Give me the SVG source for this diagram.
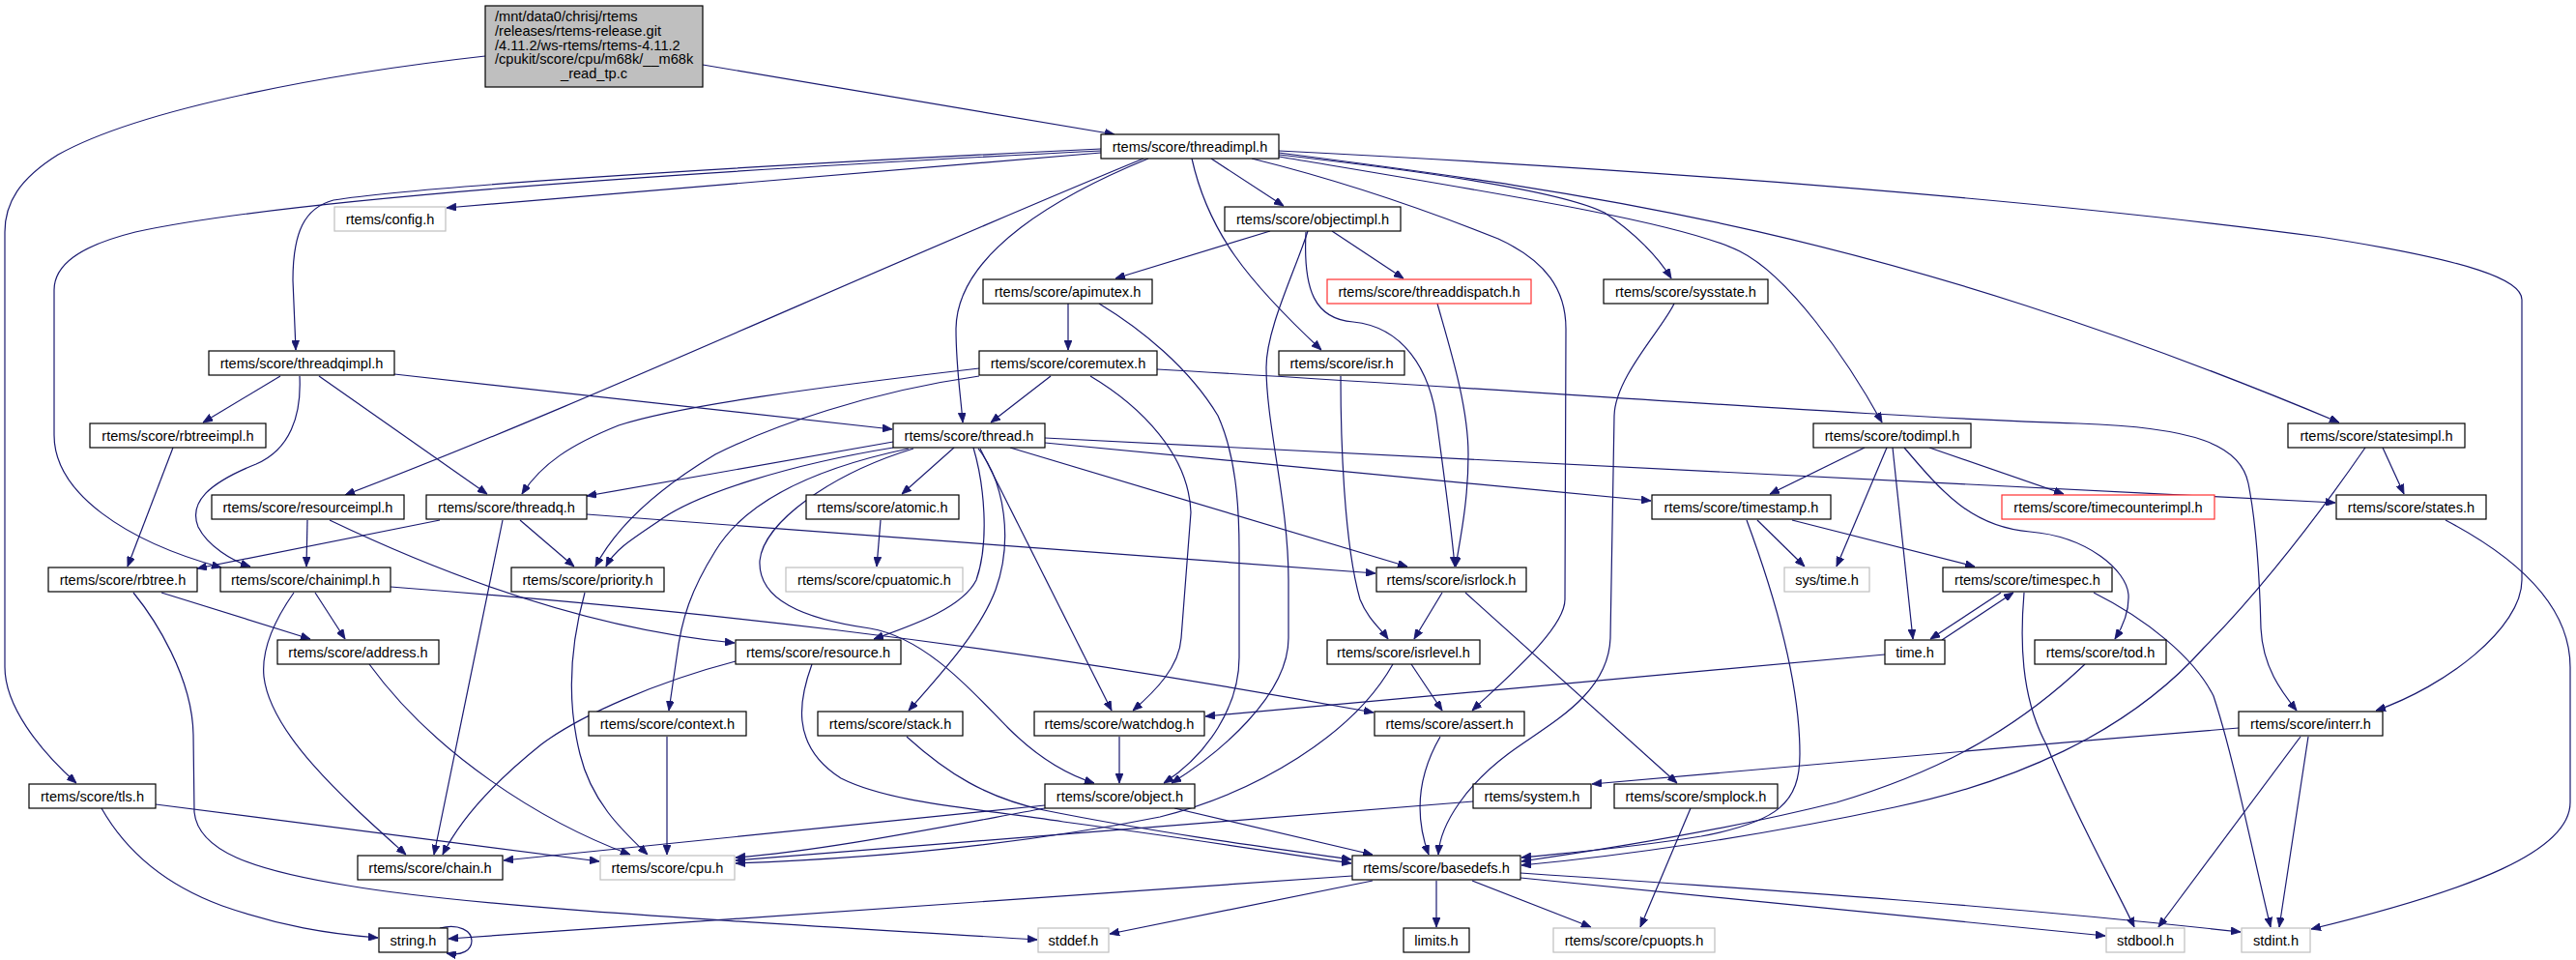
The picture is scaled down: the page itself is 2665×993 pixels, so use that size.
<svg xmlns="http://www.w3.org/2000/svg" width="2665" height="993" viewBox="0 0 2665 993">
<style>
.n rect{fill:#fff;stroke:#000;stroke-width:1.2}
.g rect{stroke:#bfbfbf}
.r rect{stroke:#ff3030}
.root rect{fill:#bfbfbf}
text{font-family:"Liberation Sans",Arial,sans-serif;font-size:14.6px;fill:#000;text-anchor:middle}
.e path{fill:none;stroke:#191970;stroke-width:1.2;marker-end:url(#a)}
</style>
<defs>
<marker id="a" viewBox="0 0 10 8" markerWidth="10" markerHeight="8" refX="10" refY="4" orient="auto" markerUnits="userSpaceOnUse">
<path d="M0,0 L10,4 L0,8 z" fill="#191970" stroke="#191970" stroke-width="0.8"/>
</marker>
</defs>
<rect width="2665" height="993" fill="#fff"/>
<g id="edges" class="e">
<path d="M727,67 L1153,139"/>
<path d="M502,58 C350,75 150,110 60,160 C20,185 5,210 5,240 L5,690 C5,730 40,775 79,810"/>
<path d="M1139,158 L462,215"/>
<path d="M1139,154 C700,175 420,195 345,207 C315,215 303,240 303,290 L306,362"/>
<path d="M1139,156 C700,178 300,205 140,240 C80,255 56,275 56,300 L56,450 C56,510 130,560 229,587"/>
<path d="M1183,164 C900,280 600,420 357,512"/>
<path d="M1188,164 C1100,200 990,260 989,340 C989,380 994,410 996,437"/>
<path d="M1253,164 L1328,213"/>
<path d="M1233,164 C1250,240 1290,290 1367,362"/>
<path d="M1295,164 C1380,185 1470,215 1550,247 C1600,270 1620,300 1620,340 L1619,620 C1619,650 1560,700 1523,735"/>
<path d="M1323,160 C1500,180 1620,200 1660,220 C1690,240 1715,265 1729,288"/>
<path d="M1323,162 C1550,200 1740,230 1800,260 C1850,285 1910,370 1947,437"/>
<path d="M1323,158 C1650,200 1950,240 2420,437"/>
<path d="M1323,156 C1700,175 2100,205 2400,245 C2560,270 2609,290 2609,310 L2609,600 C2609,650 2530,710 2458,735"/>
<path d="M1314,239 L1154,288"/>
<path d="M1378,239 L1452,288"/>
<path d="M1353,239 C1340,280 1310,340 1310,380 C1310,440 1333,520 1333,600 L1333,660 C1333,720 1260,780 1212,810"/>
<path d="M1351,240 C1348,300 1360,330 1400,333 C1450,338 1480,380 1487,440 C1495,500 1502,550 1505,586"/>
<path d="M1487,314 C1500,360 1519,420 1519,470 C1519,520 1510,560 1506,586"/>
<path d="M1732,314 C1720,340 1671,390 1670,430 L1666,660 C1664,720 1600,750 1560,780 C1520,810 1490,850 1488,884"/>
<path d="M1105,314 L1105,362"/>
<path d="M1137,314 C1180,340 1230,380 1260,430 C1278,470 1282,520 1282,570 L1282,680 C1282,730 1250,780 1204,810"/>
<path d="M1087,389 L1025,437"/>
<path d="M1013,381 C850,400 700,420 640,440 C590,460 560,480 540,511"/>
<path d="M1013,389 C900,405 800,440 740,470 C690,500 640,540 616,586"/>
<path d="M1128,389 C1180,420 1230,470 1232,530 L1222,660 C1220,690 1195,715 1172,735"/>
<path d="M1197,382 C1600,405 1950,432 2150,438 C2270,442 2318,460 2326,500 C2336,550 2338,610 2339,650 C2341,690 2360,715 2376,735"/>
<path d="M924,457 L607,513"/>
<path d="M924,463 C820,480 720,510 680,540 C650,560 635,570 627,586"/>
<path d="M987,463 L933,511"/>
<path d="M1045,463 L1456,586"/>
<path d="M1081,458 L1708,518"/>
<path d="M1081,453 C1600,475 2100,500 2416,520"/>
<path d="M1007,463 C1018,500 1024,560 1010,600 C995,630 940,648 904,661"/>
<path d="M945,464 C860,490 790,540 786,580 C784,620 830,640 900,650 C960,660 1010,720 1043,753 C1070,780 1100,800 1132,810"/>
<path d="M940,464 C840,485 770,520 740,570 C715,610 705,640 700,680 L692,735"/>
<path d="M1012,464 C1040,500 1048,560 1030,610 C1015,650 980,690 940,735"/>
<path d="M1014,464 L1150,735"/>
<path d="M290,389 L210,437"/>
<path d="M310,389 C312,430 300,465 265,480 C215,500 195,520 205,545 C215,565 240,580 259,586"/>
<path d="M330,389 L504,511"/>
<path d="M408,387 L923,444"/>
<path d="M179,463 L132,586"/>
<path d="M318,538 L317,586"/>
<path d="M341,538 C450,590 600,650 760,665"/>
<path d="M455,538 L204,588"/>
<path d="M538,538 L594,586"/>
<path d="M520,538 L449,884"/>
<path d="M607,532 L1423,593"/>
<path d="M911,538 L907,586"/>
<path d="M1818,538 L1867,586"/>
<path d="M1854,538 L2043,586"/>
<path d="M1807,538 C1830,600 1862,700 1862,780 C1862,830 1840,850 1760,865 C1680,878 1620,882 1574,887"/>
<path d="M1929,463 L1831,511"/>
<path d="M1952,463 L1900,586"/>
<path d="M1958,463 L1979,661"/>
<path d="M1996,463 L2135,511"/>
<path d="M1970,463 C2010,510 2040,545 2100,550 C2160,555 2200,590 2202,615 C2203,635 2195,650 2188,661"/>
<path d="M2465,463 L2487,511"/>
<path d="M2447,463 C2380,560 2320,630 2280,670 C2200,760 2080,810 1960,835 C1820,865 1680,885 1574,895"/>
<path d="M2530,538 C2610,580 2659,630 2659,690 L2659,830 C2659,880 2560,920 2391,961"/>
<path d="M167,613 L321,661"/>
<path d="M138,613 C160,640 199,700 200,760 L201,840 C205,880 260,900 360,916 C500,940 800,955 1073,972"/>
<path d="M326,613 L357,661"/>
<path d="M304,613 C285,640 270,670 273,700 C280,760 360,830 420,884"/>
<path d="M404,607 C700,630 1000,660 1421,737"/>
<path d="M605,613 C592,660 585,720 600,780 C612,830 645,860 670,884"/>
<path d="M382,687 C450,780 560,850 652,884"/>
<path d="M761,684 C680,705 600,740 560,770 C510,810 475,850 458,884"/>
<path d="M840,687 C828,720 815,770 870,805 C920,830 1000,835 1100,850 C1250,870 1340,885 1398,893"/>
<path d="M690,762 L690,884"/>
<path d="M938,762 C980,800 1020,825 1080,838 C1200,862 1320,878 1398,889"/>
<path d="M1158,762 L1158,810"/>
<path d="M1950,677 L1247,741"/>
<path d="M1490,762 C1468,800 1462,840 1478,884"/>
<path d="M2316,753 C2100,770 1900,790 1647,811"/>
<path d="M2380,762 L2233,959"/>
<path d="M2388,762 L2358,959"/>
<path d="M2157,687 C2080,760 2000,800 1900,830 C1780,860 1650,880 1574,891"/>
<path d="M2070,613 L1997,661"/>
<path d="M2009,662 L2083,613"/>
<path d="M2094,613 C2090,660 2090,720 2117,770 C2150,850 2190,920 2208,959"/>
<path d="M2166,613 C2220,640 2270,680 2290,720 C2310,780 2330,880 2349,959"/>
<path d="M1387,389 C1387,450 1390,560 1407,620 C1415,640 1428,650 1436,661"/>
<path d="M1492,613 L1463,661"/>
<path d="M1516,613 L1735,810"/>
<path d="M1460,687 L1492,735"/>
<path d="M1441,687 C1400,760 1300,820 1200,845 C1050,875 900,888 761,893"/>
<path d="M1524,829 L761,890"/>
<path d="M1749,836 L1697,959"/>
<path d="M161,832 L620,891"/>
<path d="M105,836 C130,880 170,915 230,937 C290,958 340,966 391,970"/>
<path d="M1081,833 L521,890"/>
<path d="M1081,836 C950,860 850,880 761,887"/>
<path d="M1215,836 L1420,884"/>
<path d="M1399,906 L464,971"/>
<path d="M1420,911 L1148,966"/>
<path d="M1486,911 L1486,959"/>
<path d="M1523,911 L1646,959"/>
<path d="M1573,908 L2178,968"/>
<path d="M1573,903 C1900,925 2100,940 2318,964"/>
<path d="M455,960 C475,955 488,963 488,973 C488,983 478,989 462,986"/>
</g>
<g id="root" class="n root"><rect x="502" y="6" width="225" height="84"/>
<text x="512" y="22" style="text-anchor:start">/mnt/data0/chrisj/rtems</text>
<text x="512" y="37" style="text-anchor:start">/releases/rtems-release.git</text>
<text x="512" y="51.5" style="text-anchor:start">/4.11.2/ws-rtems/rtems-4.11.2</text>
<text x="512" y="66" style="text-anchor:start">/cpukit/score/cpu/m68k/__m68k</text>
<text x="614.5" y="81">_read_tp.c</text></g>
<g id="threadimpl" class="n"><rect x="1139" y="139" width="184" height="25"/><text x="1231" y="156.5">rtems/score/threadimpl.h</text></g>
<g id="config" class="n g"><rect x="346" y="214" width="115" height="25"/><text x="403.5" y="231.5">rtems/config.h</text></g>
<g id="objectimpl" class="n"><rect x="1267" y="214" width="182" height="25"/><text x="1358" y="231.5">rtems/score/objectimpl.h</text></g>
<g id="apimutex" class="n"><rect x="1017" y="289" width="175" height="25"/><text x="1104.5" y="306.5">rtems/score/apimutex.h</text></g>
<g id="threaddispatch" class="n r"><rect x="1373" y="289" width="211" height="25"/><text x="1478.5" y="306.5">rtems/score/threaddispatch.h</text></g>
<g id="sysstate" class="n"><rect x="1659" y="289" width="170" height="25"/><text x="1744" y="306.5">rtems/score/sysstate.h</text></g>
<g id="threadqimpl" class="n"><rect x="216" y="363" width="192" height="25"/><text x="312" y="380.5">rtems/score/threadqimpl.h</text></g>
<g id="coremutex" class="n"><rect x="1013" y="363" width="184" height="25"/><text x="1105" y="380.5">rtems/score/coremutex.h</text></g>
<g id="isr" class="n"><rect x="1323" y="363" width="130" height="25"/><text x="1388" y="380.5">rtems/score/isr.h</text></g>
<g id="rbtreeimpl" class="n"><rect x="93" y="438" width="182" height="25"/><text x="184" y="455.5">rtems/score/rbtreeimpl.h</text></g>
<g id="thread" class="n"><rect x="924" y="438" width="157" height="25"/><text x="1002.5" y="455.5">rtems/score/thread.h</text></g>
<g id="todimpl" class="n"><rect x="1876" y="438" width="163" height="25"/><text x="1957.5" y="455.5">rtems/score/todimpl.h</text></g>
<g id="statesimpl" class="n"><rect x="2367" y="438" width="183" height="25"/><text x="2458.5" y="455.5">rtems/score/statesimpl.h</text></g>
<g id="resourceimpl" class="n"><rect x="219" y="512" width="199" height="25"/><text x="318.5" y="529.5">rtems/score/resourceimpl.h</text></g>
<g id="threadq" class="n"><rect x="441" y="512" width="166" height="25"/><text x="524" y="529.5">rtems/score/threadq.h</text></g>
<g id="atomic" class="n"><rect x="834" y="512" width="158" height="25"/><text x="913" y="529.5">rtems/score/atomic.h</text></g>
<g id="timestamp" class="n"><rect x="1709" y="512" width="185" height="25"/><text x="1801.5" y="529.5">rtems/score/timestamp.h</text></g>
<g id="timecounterimpl" class="n r"><rect x="2071" y="512" width="220" height="25"/><text x="2181" y="529.5">rtems/score/timecounterimpl.h</text></g>
<g id="states" class="n"><rect x="2417" y="512" width="155" height="25"/><text x="2494.5" y="529.5">rtems/score/states.h</text></g>
<g id="rbtree" class="n"><rect x="50" y="587" width="154" height="25"/><text x="127" y="604.5">rtems/score/rbtree.h</text></g>
<g id="chainimpl" class="n"><rect x="228" y="587" width="176" height="25"/><text x="316" y="604.5">rtems/score/chainimpl.h</text></g>
<g id="priority" class="n"><rect x="529" y="587" width="158" height="25"/><text x="608" y="604.5">rtems/score/priority.h</text></g>
<g id="cpuatomic" class="n g"><rect x="813" y="587" width="183" height="25"/><text x="904.5" y="604.5">rtems/score/cpuatomic.h</text></g>
<g id="isrlock" class="n"><rect x="1424" y="587" width="155" height="25"/><text x="1501.5" y="604.5">rtems/score/isrlock.h</text></g>
<g id="systime" class="n g"><rect x="1846" y="587" width="88" height="25"/><text x="1890" y="604.5">sys/time.h</text></g>
<g id="timespec" class="n"><rect x="2010" y="587" width="175" height="25"/><text x="2097.5" y="604.5">rtems/score/timespec.h</text></g>
<g id="address" class="n"><rect x="287" y="662" width="167" height="25"/><text x="370.5" y="679.5">rtems/score/address.h</text></g>
<g id="resource" class="n"><rect x="761" y="662" width="171" height="25"/><text x="846.5" y="679.5">rtems/score/resource.h</text></g>
<g id="isrlevel" class="n"><rect x="1373" y="662" width="158" height="25"/><text x="1452" y="679.5">rtems/score/isrlevel.h</text></g>
<g id="time" class="n"><rect x="1950" y="662" width="62" height="25"/><text x="1981" y="679.5">time.h</text></g>
<g id="tod" class="n"><rect x="2105" y="662" width="136" height="25"/><text x="2173" y="679.5">rtems/score/tod.h</text></g>
<g id="context" class="n"><rect x="609" y="736" width="163" height="25"/><text x="690.5" y="753.5">rtems/score/context.h</text></g>
<g id="stack" class="n"><rect x="846" y="736" width="150" height="25"/><text x="921" y="753.5">rtems/score/stack.h</text></g>
<g id="watchdog" class="n"><rect x="1070" y="736" width="176" height="25"/><text x="1158" y="753.5">rtems/score/watchdog.h</text></g>
<g id="assert" class="n"><rect x="1422" y="736" width="155" height="25"/><text x="1499.5" y="753.5">rtems/score/assert.h</text></g>
<g id="interr" class="n"><rect x="2316" y="736" width="149" height="25"/><text x="2390.5" y="753.5">rtems/score/interr.h</text></g>
<g id="tls" class="n"><rect x="30" y="811" width="131" height="25"/><text x="95.5" y="828.5">rtems/score/tls.h</text></g>
<g id="object" class="n"><rect x="1081" y="811" width="155" height="25"/><text x="1158.5" y="828.5">rtems/score/object.h</text></g>
<g id="system" class="n"><rect x="1524" y="811" width="122" height="25"/><text x="1585" y="828.5">rtems/system.h</text></g>
<g id="smplock" class="n"><rect x="1670" y="811" width="169" height="25"/><text x="1754.5" y="828.5">rtems/score/smplock.h</text></g>
<g id="chain" class="n"><rect x="370" y="885" width="150" height="25"/><text x="445" y="902.5">rtems/score/chain.h</text></g>
<g id="cpu" class="n g"><rect x="621" y="885" width="139" height="25"/><text x="690.5" y="902.5">rtems/score/cpu.h</text></g>
<g id="basedefs" class="n"><rect x="1399" y="885" width="174" height="25"/><text x="1486" y="902.5">rtems/score/basedefs.h</text></g>
<g id="string" class="n"><rect x="392" y="960" width="71" height="25"/><text x="427.5" y="977.5">string.h</text></g>
<g id="stddef" class="n g"><rect x="1074" y="960" width="73" height="25"/><text x="1110.5" y="977.5">stddef.h</text></g>
<g id="limits" class="n"><rect x="1452" y="960" width="68" height="25"/><text x="1486" y="977.5">limits.h</text></g>
<g id="cpuopts" class="n g"><rect x="1607" y="960" width="167" height="25"/><text x="1690.5" y="977.5">rtems/score/cpuopts.h</text></g>
<g id="stdbool" class="n g"><rect x="2179" y="960" width="81" height="25"/><text x="2219.5" y="977.5">stdbool.h</text></g>
<g id="stdint" class="n g"><rect x="2319" y="960" width="71" height="25"/><text x="2354.5" y="977.5">stdint.h</text></g>
</svg>
